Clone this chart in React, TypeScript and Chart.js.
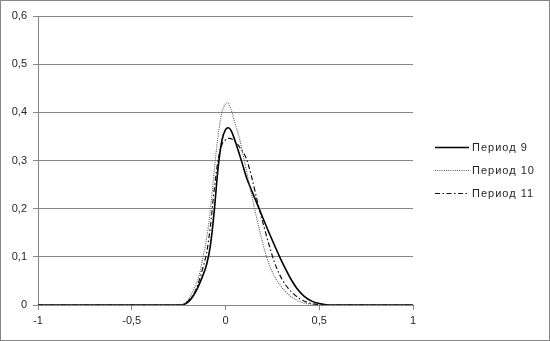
import React, { useEffect, useRef } from "react";
import { Chart, registerables } from "chart.js";

Chart.register(...registerables);

const SERIES_NAMES = ["Период 9", "Период 10", "Период 11"];
const X_TICKS = [-1, -0.5, 0, 0.5, 1];
const Y_TICKS = [0, 0.1, 0.2, 0.3, 0.4, 0.5, 0.6];

const P9_X = [-1, -0.24, -0.2, -0.16, -0.12, -0.1, -0.08, -0.06, -0.04, -0.02, 0, 0.015, 0.03, 0.05, 0.07, 0.09, 0.11, 0.14, 0.17, 0.2, 0.23, 0.26, 0.29, 0.32, 0.35, 0.38, 0.42, 0.46, 0.5, 0.55, 1];
const P9_Y = [0, 0, 0.006, 0.027, 0.062, 0.085, 0.125, 0.195, 0.283, 0.34, 0.364, 0.368, 0.362, 0.342, 0.318, 0.293, 0.267, 0.237, 0.209, 0.18, 0.152, 0.125, 0.099, 0.075, 0.053, 0.035, 0.018, 0.008, 0.003, 0, 0];

const P10_X = [-1, -0.24, -0.2, -0.17, -0.14, -0.12, -0.1, -0.08, -0.06, -0.04, -0.02, 0, 0.01, 0.03, 0.05, 0.075, 0.1, 0.13, 0.155, 0.185, 0.215, 0.25, 0.29, 0.33, 0.37, 0.42, 0.48, 0.52, 1];
const P10_Y = [0, 0, 0.01, 0.033, 0.062, 0.1, 0.14, 0.2, 0.28, 0.35, 0.398, 0.418, 0.42, 0.405, 0.378, 0.345, 0.3, 0.245, 0.2, 0.15, 0.105, 0.068, 0.042, 0.024, 0.012, 0.004, 0.001, 0, 0];

const P11_X = [-1, -0.24, -0.2, -0.16, -0.12, -0.1, -0.08, -0.06, -0.04, -0.02, 0, 0.02, 0.05, 0.08, 0.11, 0.14, 0.17, 0.2, 0.23, 0.26, 0.29, 0.32, 0.36, 0.4, 0.45, 0.5, 0.55, 1];
const P11_Y = [0, 0, 0.008, 0.03, 0.078, 0.11, 0.165, 0.24, 0.3, 0.332, 0.343, 0.346, 0.34, 0.325, 0.305, 0.265, 0.215, 0.17, 0.128, 0.09, 0.062, 0.042, 0.024, 0.012, 0.004, 0.001, 0, 0];

const toPoints = (xs: number[], ys: number[]) => xs.map((x, i) => ({ x, y: ys[i] }));
const fmt = (v: number) => String(Number(v.toFixed(2))).replace(".", ",");

const STYLES = [
  { color: "#000000", width: 1.6, dash: [] as number[] },
  { color: "#555555", width: 1.1, dash: [1, 1.2] },
  { color: "#111111", width: 1.2, dash: [5, 2.5, 1.5, 2.5] },
];

const legendPlugin = {
  id: "customLegend",
  afterDraw(chart: any) {
    const ctx = chart.ctx as CanvasRenderingContext2D;
    const rows = [146, 169, 192];
    ctx.save();
    SERIES_NAMES.forEach((name, i) => {
      const y = rows[i];
      const s = STYLES[i];
      ctx.beginPath();
      ctx.setLineDash(s.dash);
      ctx.strokeStyle = s.color;
      ctx.lineWidth = s.width;
      ctx.moveTo(434, y + 0.5);
      ctx.lineTo(468, y + 0.5);
      ctx.stroke();
      ctx.setLineDash([]);
      ctx.fillStyle = "#262626";
      ctx.font = "11px 'Liberation Sans', Arial, sans-serif";
      (ctx as any).letterSpacing = "1px";
      ctx.textBaseline = "middle";
      ctx.textAlign = "left";
      ctx.fillText(name, 471, y + 1);
      (ctx as any).letterSpacing = "0px";
    });
    ctx.restore();
  },
};

export default function App() {
  const ref = useRef<HTMLCanvasElement | null>(null);

  useEffect(() => {
    document.body.style.margin = "0";
    document.body.style.background = "#ffffff";
    const canvas = ref.current;
    if (!canvas) return;
    const datasets = [
      toPoints(P9_X, P9_Y),
      toPoints(P10_X, P10_Y),
      toPoints(P11_X, P11_Y),
    ].map((data, i) => ({
      label: SERIES_NAMES[i],
      data,
      showLine: true,
      borderColor: STYLES[i].color,
      borderWidth: STYLES[i].width,
      borderDash: STYLES[i].dash,
      pointRadius: 0,
      fill: false,
      cubicInterpolationMode: "monotone" as const,
    }));

    const tickFont = { family: "'Liberation Sans', Arial, sans-serif", size: 11 };

    const chart = new Chart(canvas, {
      type: "scatter",
      data: { datasets: datasets.slice().reverse() as any },
      options: {
        animation: false,
        responsive: false,
        maintainAspectRatio: false,
        layout: { padding: { top: 15, right: 136, bottom: 0, left: 0 } },
        plugins: { legend: { display: false }, tooltip: { enabled: false } },
        scales: {
          x: {
            type: "linear",
            min: -1,
            max: 1,
            afterBuildTicks: (scale: any) => {
              scale.ticks = X_TICKS.map((v) => ({ value: v }));
            },
            afterFit: (scale: any) => {
              scale.height = 35;
            },
            ticks: {
              color: "#262626",
              font: tickFont,
              padding: 4,
              maxRotation: 0,
              callback: (v: any) => fmt(Number(v)),
            },
            grid: {
              display: true,
              drawOnChartArea: false,
              drawTicks: true,
              tickLength: 5,
              color: "#868686",
            },
            border: { display: true, color: "#868686" },
          },
          y: {
            type: "linear",
            min: 0,
            max: 0.6,
            afterBuildTicks: (scale: any) => {
              scale.ticks = Y_TICKS.map((v) => ({ value: v }));
            },
            afterFit: (scale: any) => {
              scale.width = 37;
            },
            ticks: {
              color: "#262626",
              font: tickFont,
              padding: 6,
              callback: (v: any) => fmt(Number(v)),
            },
            grid: {
              color: "#868686",
              lineWidth: 1,
              drawTicks: true,
              tickLength: 5,
            },
            border: { display: true, color: "#868686" },
          },
        },
      },
      plugins: [legendPlugin],
    });
    return () => chart.destroy();
  }, []);

  return (
    <div
      style={{
        width: 550,
        height: 341,
        boxSizing: "border-box",
        border: "1px solid #868686",
        background: "#fff",
      }}
    >
      <canvas ref={ref} width={548} height={339} style={{ display: "block" }} />
    </div>
  );
}
